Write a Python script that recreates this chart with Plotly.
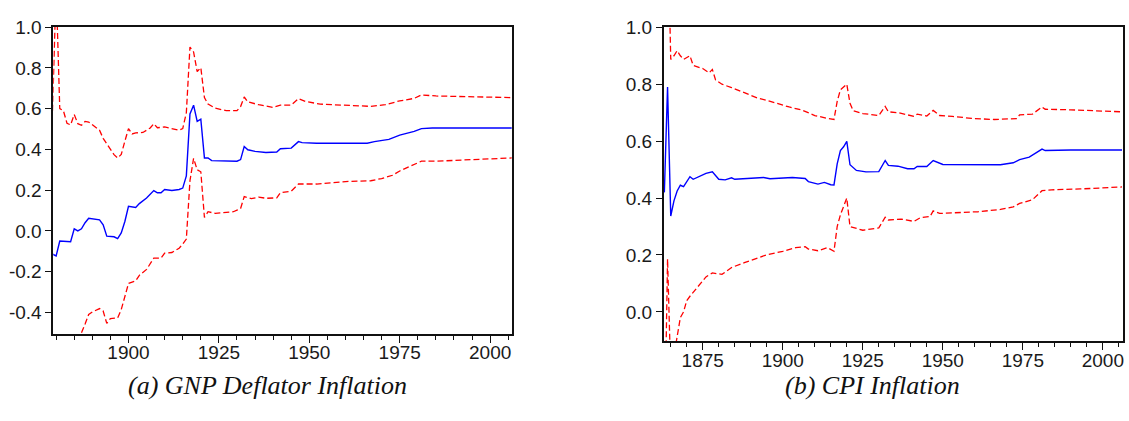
import plotly.graph_objects as go

# ---------------- (a) GNP deflator inflation ----------------
gnp_mid_years = [1879, 1880, 1881, 1884, 1885, 1886, 1887, 1888, 1889, 1892, 1893, 1894, 1896, 1897,
                 1898, 1899, 1900, 1902, 1903, 1905, 1907, 1908, 1909, 1910, 1912, 1914, 1915, 1916,
                 1917, 1918, 1919, 1920, 1921, 1922, 1923, 1930, 1931, 1932, 1933, 1935, 1938, 1941,
                 1942, 1945, 1947, 1948, 1952, 1966, 1968, 1972, 1975, 1979, 1981, 1984, 2006]
gnp_mid = [-0.114, -0.123, -0.05, -0.053, 0.01, 0.0, 0.01, 0.04, 0.062, 0.054, 0.03, -0.026, -0.029,
           -0.038, -0.01, 0.046, 0.121, 0.115, 0.134, 0.161, 0.198, 0.187, 0.187, 0.203, 0.198, 0.203,
           0.21, 0.27, 0.574, 0.617, 0.537, 0.548, 0.358, 0.358, 0.345, 0.342, 0.35, 0.414, 0.398,
           0.39, 0.385, 0.387, 0.403, 0.406, 0.438, 0.433, 0.43, 0.43, 0.438, 0.449, 0.47, 0.488,
           0.502, 0.505, 0.505]

gnp_up_years = [1879, 1880, 1881, 1882, 1883, 1884, 1885, 1886, 1887, 1888, 1889, 1891, 1892, 1893,
                1895, 1896, 1897, 1898, 1899, 1900, 1901, 1902, 1904, 1906, 1907, 1908, 1910, 1912,
                1914, 1915, 1916, 1917, 1918, 1919, 1920, 1921, 1922, 1924, 1927, 1930, 1931, 1932,
                1933, 1936, 1940, 1942, 1945, 1947, 1949, 1953, 1961, 1967, 1971, 1975, 1979, 1981,
                1985, 1996, 2006]
gnp_up = [0.59, 1.2, 0.6, 0.59, 0.528, 0.52, 0.571, 0.526, 0.518, 0.537, 0.534, 0.51, 0.494, 0.454,
          0.398, 0.374, 0.358, 0.375, 0.44, 0.502, 0.476, 0.481, 0.483, 0.505, 0.526, 0.506, 0.51,
          0.502, 0.494, 0.502, 0.58, 0.902, 0.878, 0.782, 0.801, 0.654, 0.622, 0.602, 0.59, 0.59,
          0.61, 0.657, 0.633, 0.619, 0.606, 0.617, 0.617, 0.649, 0.635, 0.622, 0.617, 0.611, 0.619,
          0.638, 0.65, 0.667, 0.662, 0.657, 0.654]

gnp_lo_years = [1879, 1880, 1881, 1882, 1883, 1884, 1885, 1886, 1887, 1888, 1889, 1890, 1892, 1893,
                1894, 1895, 1897, 1898, 1900, 1902, 1903, 1905, 1907, 1909, 1910, 1912, 1914, 1915,
                1916, 1917, 1918, 1919, 1920, 1921, 1922, 1924, 1929, 1930, 1931, 1932, 1933, 1934,
                1936, 1938, 1941, 1942, 1945, 1947, 1952, 1957, 1961, 1967, 1970, 1973, 1975, 1978,
                1981, 1985, 1998, 2006]
gnp_lo = [-0.82, -1.3, -0.7, -0.69, -0.63, -0.63, -0.55, -0.526, -0.5, -0.457, -0.41, -0.398, -0.381,
          -0.393, -0.454, -0.43, -0.427, -0.386, -0.258, -0.245, -0.218, -0.189, -0.134, -0.134,
          -0.109, -0.106, -0.085, -0.065, -0.04, 0.246, 0.356, 0.30, 0.29, 0.066, 0.094, 0.086,
          0.094, 0.102, 0.11, 0.168, 0.163, 0.158, 0.166, 0.16, 0.162, 0.187, 0.195, 0.23, 0.23,
          0.238, 0.243, 0.246, 0.257, 0.273, 0.294, 0.318, 0.342, 0.342, 0.35, 0.358]

# ---------------- (b) CPI inflation ----------------
cpi_mid_years = [1863, 1864, 1865, 1866, 1867, 1868, 1869, 1871, 1872, 1875, 1876, 1878, 1880, 1882,
                 1884, 1885, 1894, 1896, 1903, 1907, 1908, 1911, 1913, 1915, 1916, 1917, 1918, 1919,
                 1920, 1921, 1923, 1926, 1930, 1932, 1933, 1936, 1939, 1941, 1942, 1945, 1947, 1950,
                 1960, 1965, 1968, 1972, 1974, 1977, 1981, 1982, 1990, 2006]
cpi_mid = [0.42, 0.79, 0.337, 0.39, 0.425, 0.445, 0.44, 0.475, 0.466, 0.482, 0.487, 0.492, 0.466,
           0.464, 0.471, 0.466, 0.472, 0.468, 0.472, 0.469, 0.458, 0.449, 0.455, 0.447, 0.446, 0.52,
           0.567, 0.58, 0.599, 0.517, 0.497, 0.492, 0.493, 0.532, 0.515, 0.512, 0.503, 0.503, 0.511,
           0.511, 0.532, 0.518, 0.516, 0.515, 0.517, 0.524, 0.535, 0.544, 0.572, 0.567, 0.569, 0.569]

cpi_up_years = [1863, 1864, 1865, 1866, 1867, 1868, 1869, 1870, 1871, 1872, 1874, 1875, 1877, 1878,
                1879, 1881, 1884, 1888, 1892, 1895, 1898, 1902, 1906, 1910, 1914, 1916, 1917, 1918,
                1919, 1920, 1921, 1922, 1925, 1930, 1932, 1933, 1936, 1940, 1941, 1942, 1945, 1947,
                1949, 1953, 1959, 1966, 1973, 1974, 1978, 1981, 1982, 1990, 2006]
cpi_up = [1.34, 1.39, 0.887, 0.90, 0.918, 0.90, 0.887, 0.895, 0.90, 0.866, 0.86, 0.855, 0.84, 0.852,
          0.815, 0.80, 0.788, 0.769, 0.752, 0.743, 0.732, 0.72, 0.709, 0.69, 0.68, 0.676, 0.74, 0.78,
          0.79, 0.80, 0.733, 0.707, 0.697, 0.69, 0.722, 0.703, 0.70, 0.688, 0.687, 0.695, 0.688,
          0.708, 0.69, 0.687, 0.68, 0.676, 0.679, 0.692, 0.695, 0.72, 0.712, 0.71, 0.703]

cpi_lo_years = [1863, 1864, 1865, 1866, 1867, 1868, 1869, 1870, 1871, 1873, 1876, 1878, 1881, 1882,
                1884, 1888, 1891, 1895, 1900, 1904, 1907, 1908, 1911, 1914, 1916, 1917, 1918, 1919,
                1920, 1921, 1923, 1925, 1930, 1932, 1933, 1937, 1941, 1943, 1946, 1947, 1949, 1955,
                1961, 1968, 1972, 1974, 1978, 1981, 1984, 1993, 2000, 2006]
cpi_lo = [-0.5, 0.186, -0.22, -0.15, -0.085, -0.02, 0.0, 0.04, 0.055, 0.083, 0.123, 0.137, 0.132,
          0.14, 0.156, 0.173, 0.186, 0.201, 0.213, 0.226, 0.229, 0.221, 0.215, 0.226, 0.213, 0.30,
          0.341, 0.37, 0.40, 0.30, 0.293, 0.287, 0.295, 0.333, 0.323, 0.326, 0.318, 0.331, 0.335,
          0.355, 0.346, 0.349, 0.352, 0.36, 0.369, 0.381, 0.394, 0.426, 0.429, 0.432, 0.437, 0.439]

gnp_yticks = [1.0, 0.8, 0.6, 0.4, 0.2, 0.0, -0.2, -0.4]
gnp_yticktext = ["1.0", "0.8", "0.6", "0.4", "0.2", "0.0", "-0.2", "-0.4"]
cpi_yticks = [1.0, 0.8, 0.6, 0.4, 0.2, 0.0]
cpi_yticktext = ["1.0", "0.8", "0.6", "0.4", "0.2", "0.0"]
gnp_xticks = [1900, 1925, 1950, 1975, 2000]
cpi_xticks = [1875, 1900, 1925, 1950, 1975, 2000]
captions = ["(a) GNP Deflator Inflation", "(b) CPI Inflation"]

RED = "#FF0000"
BLUE = "#0000FF"
DASH = "6px,3px"

fig = go.Figure()


def add_set(xa, ya, up_x, up_y, mid_x, mid_y, lo_x, lo_y):
    fig.add_trace(go.Scatter(x=up_x, y=up_y, mode="lines", xaxis=xa, yaxis=ya,
                             line=dict(color=RED, width=1.3, dash=DASH), hoverinfo="skip"))
    fig.add_trace(go.Scatter(x=lo_x, y=lo_y, mode="lines", xaxis=xa, yaxis=ya,
                             line=dict(color=RED, width=1.3, dash=DASH), hoverinfo="skip"))
    fig.add_trace(go.Scatter(x=mid_x, y=mid_y, mode="lines", xaxis=xa, yaxis=ya,
                             line=dict(color=BLUE, width=1.4), hoverinfo="skip"))


add_set("x", "y", gnp_up_years, gnp_up, gnp_mid_years, gnp_mid, gnp_lo_years, gnp_lo)
add_set("x2", "y2", cpi_up_years, cpi_up, cpi_mid_years, cpi_mid, cpi_lo_years, cpi_lo)

W, H = 1129, 421
tickfont = dict(family="Liberation Sans, Arial, sans-serif", size=19, color="#1a1a1a")


def xaxis_cfg(domain, rng, ticks):
    return dict(domain=domain, range=rng, tickmode="array", tickvals=ticks,
                ticks="outside", ticklen=7, tickwidth=1.2, tickcolor="#111",
                showline=True, linecolor="#111", linewidth=1.6, mirror=True,
                showgrid=False, zeroline=False, tickfont=tickfont, ticklabelstandoff=-6,
                minor=dict(tickmode="linear", tick0=1880, dtick=5, ticks="outside",
                           ticklen=4, tickwidth=1.1, tickcolor="#111", showgrid=False))


def yaxis_cfg(domain, rng, vals, text, anchor):
    return dict(domain=domain, range=rng, tickmode="array", tickvals=vals, ticktext=text,
                ticks="outside", ticklen=6, tickwidth=1.2, tickcolor="#111",
                showline=True, linecolor="#111", linewidth=1.6, mirror=True,
                showgrid=False, zeroline=False, tickfont=tickfont, anchor=anchor)


fig.update_layout(
    width=W, height=H,
    margin=dict(l=0, r=0, t=0, b=0),
    paper_bgcolor="white", plot_bgcolor="white",
    showlegend=False,
    xaxis=xaxis_cfg([53.3 / W, 512.3 / W], [1879.2, 2006.0], gnp_xticks) | dict(anchor="y"),
    yaxis=yaxis_cfg([(H - 331.7) / H, (H - 17.5) / H], [-0.505, 1.0], gnp_yticks, gnp_yticktext, "x"),
    xaxis2=xaxis_cfg([664.3 / W, 1124.0 / W], [1862.8, 2006.3], cpi_xticks) | dict(anchor="y2"),
    yaxis2=yaxis_cfg([(H - 339.3) / H, (H - 17.7) / H], [-0.103, 1.0], cpi_yticks, cpi_yticktext, "x2"),
)

capfont = dict(family="Liberation Serif, Times New Roman, serif", size=26, color="#111", style="italic")
cap_y = (H - 385) / H
fig.add_annotation(text=captions[0], x=267.5 / W, y=cap_y, xref="paper", yref="paper",
                   xanchor="center", yanchor="middle", showarrow=False, font=capfont)
fig.add_annotation(text=captions[1], x=873 / W, y=cap_y, xref="paper", yref="paper",
                   xanchor="center", yanchor="middle", showarrow=False, font=capfont)

fig.write_html("out.html")
